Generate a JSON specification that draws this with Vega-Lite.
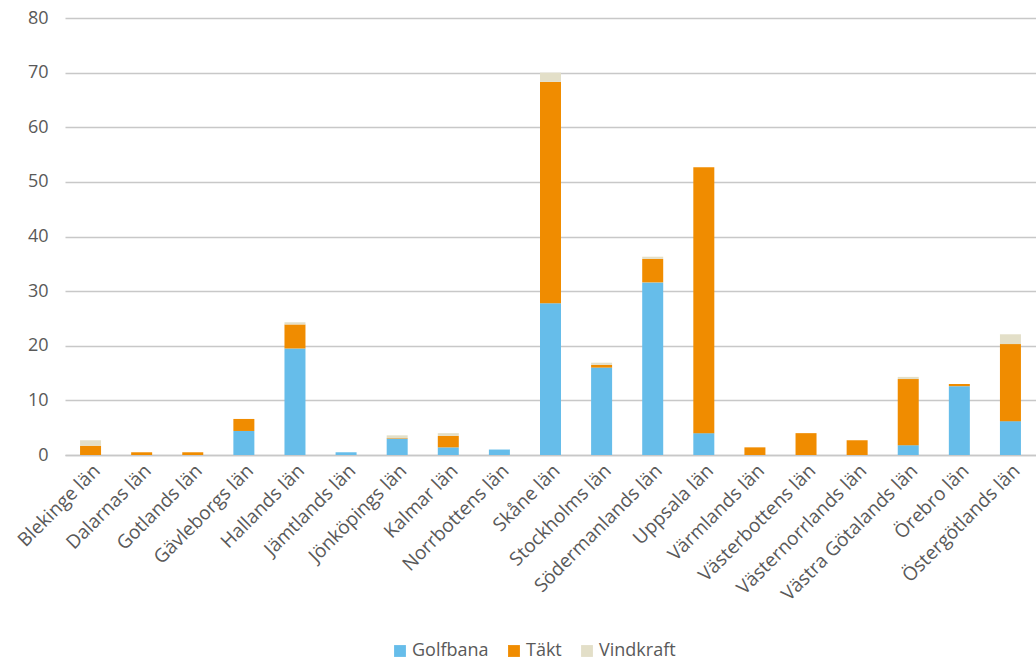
{
  "$schema": "https://vega.github.io/schema/vega-lite/v6.json",
  "autosize": {"type": "none"},
  "padding": {"left": 65, "top": 18, "right": 0, "bottom": 206},
  "width": 971,
  "height": 437,
  "background": "white",
  "data": {"values": [
    {"lan": "Blekinge län", "typ": "Golfbana", "v": 0},
    {"lan": "Blekinge län", "typ": "Täkt", "v": 1.7},
    {"lan": "Blekinge län", "typ": "Vindkraft", "v": 1.0},
    {"lan": "Dalarnas län", "typ": "Täkt", "v": 0.5},
    {"lan": "Gotlands län", "typ": "Täkt", "v": 0.5},
    {"lan": "Gävleborgs län", "typ": "Golfbana", "v": 4.4},
    {"lan": "Gävleborgs län", "typ": "Täkt", "v": 2.2},
    {"lan": "Hallands län", "typ": "Golfbana", "v": 19.5},
    {"lan": "Hallands län", "typ": "Täkt", "v": 4.4},
    {"lan": "Hallands län", "typ": "Vindkraft", "v": 0.4},
    {"lan": "Jämtlands län", "typ": "Golfbana", "v": 0.5},
    {"lan": "Jönköpings län", "typ": "Golfbana", "v": 3.0},
    {"lan": "Jönköpings län", "typ": "Täkt", "v": 0.1},
    {"lan": "Jönköpings län", "typ": "Vindkraft", "v": 0.5},
    {"lan": "Kalmar län", "typ": "Golfbana", "v": 1.4},
    {"lan": "Kalmar län", "typ": "Täkt", "v": 2.1},
    {"lan": "Kalmar län", "typ": "Vindkraft", "v": 0.5},
    {"lan": "Norrbottens län", "typ": "Golfbana", "v": 1.0},
    {"lan": "Skåne län", "typ": "Golfbana", "v": 27.8},
    {"lan": "Skåne län", "typ": "Täkt", "v": 40.5},
    {"lan": "Skåne län", "typ": "Vindkraft", "v": 1.7},
    {"lan": "Stockholms län", "typ": "Golfbana", "v": 16.0},
    {"lan": "Stockholms län", "typ": "Täkt", "v": 0.5},
    {"lan": "Stockholms län", "typ": "Vindkraft", "v": 0.4},
    {"lan": "Södermanlands län", "typ": "Golfbana", "v": 31.6},
    {"lan": "Södermanlands län", "typ": "Täkt", "v": 4.3},
    {"lan": "Södermanlands län", "typ": "Vindkraft", "v": 0.4},
    {"lan": "Uppsala län", "typ": "Golfbana", "v": 4.0},
    {"lan": "Uppsala län", "typ": "Täkt", "v": 48.7},
    {"lan": "Värmlands län", "typ": "Täkt", "v": 1.4},
    {"lan": "Västerbottens län", "typ": "Täkt", "v": 4.0},
    {"lan": "Västernorrlands län", "typ": "Täkt", "v": 2.7},
    {"lan": "Västra Götalands län", "typ": "Golfbana", "v": 1.8},
    {"lan": "Västra Götalands län", "typ": "Täkt", "v": 12.1},
    {"lan": "Västra Götalands län", "typ": "Vindkraft", "v": 0.4},
    {"lan": "Örebro län", "typ": "Golfbana", "v": 12.6},
    {"lan": "Örebro län", "typ": "Täkt", "v": 0.4},
    {"lan": "Östergötlands län", "typ": "Golfbana", "v": 6.2},
    {"lan": "Östergötlands län", "typ": "Täkt", "v": 14.1},
    {"lan": "Östergötlands län", "typ": "Vindkraft", "v": 1.8}
  ]},
  "mark": {"type": "bar", "size": 21},
  "encoding": {
    "x": {
      "field": "lan", "type": "nominal", "sort": null, "title": null,
      "axis": {
        "labelAngle": -45, "labelFont": "Open Sans", "labelFontSize": 19,
        "labelColor": "#595959", "domainColor": "#c8c8c8", "domainWidth": 1.5,
        "ticks": false, "labelPadding": 6, "labelLimit": 300
      }
    },
    "y": {
      "field": "v", "type": "quantitative", "aggregate": "sum", "stack": "zero", "title": null,
      "scale": {"domain": [0, 80]},
      "axis": {
        "values": [0, 10, 20, 30, 40, 50, 60, 70, 80],
        "labelFont": "Open Sans", "labelFontSize": 18, "labelColor": "#595959",
        "domain": false, "ticks": false, "labelPadding": 17,
        "gridColor": "#c8c8c8", "gridWidth": 1.5
      }
    },
    "color": {
      "field": "typ", "type": "nominal", "title": null,
      "scale": {"domain": ["Golfbana", "Täkt", "Vindkraft"], "range": ["#66bdea", "#f08c00", "#e3dfc8"]},
      "legend": {
        "orient": "none", "direction": "horizontal", "legendX": 326, "legendY": 624,
        "symbolType": "square", "symbolSize": 140, "symbolStrokeWidth": 0,
        "labelFont": "Open Sans", "labelFontSize": 18, "labelColor": "#595959",
        "columnPadding": 16, "labelOffset": 3
      }
    },
    "order": {"field": "typ", "sort": "ascending"}
  },
  "config": {"view": {"stroke": null}}
}
